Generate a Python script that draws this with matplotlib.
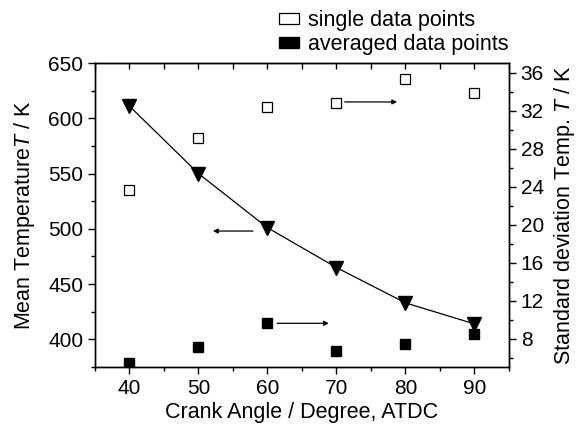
import matplotlib
matplotlib.use('Agg')
import matplotlib.pyplot as plt
from matplotlib.patches import Patch
from matplotlib.ticker import MultipleLocator

plt.rcParams['font.family'] = ['Liberation Sans', 'DejaVu Sans']
plt.rcParams['mathtext.fontset'] = 'custom'
plt.rcParams['mathtext.it'] = 'Liberation Sans:italic'

# data
crank_angle = [40, 50, 60, 70, 80, 90]
mean_temp = [611, 550, 501, 465, 433, 414]
std_single = [23.6, 29.1, 32.4, 32.8, 35.3, 33.8]
std_averaged = [5.4, 7.1, 9.6, 6.7, 7.4, 8.5]

fig = plt.figure(figsize=(5.77, 4.33), dpi=100)
ax = fig.add_axes([0.1646, 0.1524, 0.7174, 0.7021])
ax2 = ax.twinx()

# mean temperature (left axis)
ax.plot(crank_angle, mean_temp, color='black', lw=0.9, zorder=2)
ax.plot(crank_angle, mean_temp, 'v', color='black', ms=10, zorder=3)

# standard deviation (right axis)
ax2.plot(crank_angle, std_single, 's', mfc='white', mec='black', mew=0.9, ms=6.5)
ax2.plot(crank_angle, std_averaged, 's', color='black', ms=7)

ax.set_xlim(35, 95)
ax.set_ylim(375, 650)
ax2.set_ylim(5, 37)

ax.xaxis.set_major_locator(MultipleLocator(10))
ax.xaxis.set_minor_locator(MultipleLocator(5))
ax.yaxis.set_major_locator(MultipleLocator(50))
ax.yaxis.set_minor_locator(MultipleLocator(25))
ax2.yaxis.set_minor_locator(MultipleLocator(2))
ax2.set_yticks([8, 12, 16, 20, 24, 28, 32, 36])

ax.tick_params(axis='x', which='both', direction='out', top=False, labelsize=15)
ax.tick_params(axis='y', which='both', direction='out', labelsize=15)
ax.tick_params(which='major', length=5, width=1)
ax.tick_params(which='minor', length=3, width=1)
ax2.tick_params(axis='y', which='major', direction='out', length=5, width=1, labelsize=15)
ax2.tick_params(axis='y', which='minor', direction='out', length=3, width=1)

# inward ticks on the top edge
top = ax.secondary_xaxis('top')
top.xaxis.set_major_locator(MultipleLocator(10))
top.xaxis.set_minor_locator(MultipleLocator(5))
top.tick_params(which='both', direction='in', length=4, width=1, labeltop=False)

for a in (ax, ax2):
    for s in a.spines.values():
        s.set_linewidth(1)

ax.set_xlabel('Crank Angle / Degree, ATDC', fontsize=15.5, labelpad=3)
ax.set_ylabel('Mean Temperature$\\mathit{T}$ / K', fontsize=15.5, labelpad=8)
ax2.set_ylabel('Standard deviation Temp. $\\mathit{T}$ / K', fontsize=15.5, labelpad=6)

# arrows pointing to the respective axis
arrow = dict(arrowstyle='-|>', lw=0.9, color='black', mutation_scale=7, shrinkA=0, shrinkB=0)
ax.annotate('', xy=(52.1, 498), xytext=(57.9, 498), arrowprops=arrow)
ax2.annotate('', xy=(78.8, 32.9), xytext=(71.2, 32.9), arrowprops=arrow)
ax2.annotate('', xy=(68.9, 9.6), xytext=(61.4, 9.6), arrowprops=arrow)

handles = [Patch(facecolor='white', edgecolor='black', lw=0.9, label='single data points'),
           Patch(facecolor='black', edgecolor='black', label='averaged data points')]
fig.legend(handles=handles, loc='upper left', bbox_to_anchor=(0.469, 0.997),
           frameon=False, fontsize=15.5, handlelength=0.9, handleheight=0.42,
           handletextpad=0.45, labelspacing=0.15, borderaxespad=0)

fig.savefig('out.png', dpi=100)
